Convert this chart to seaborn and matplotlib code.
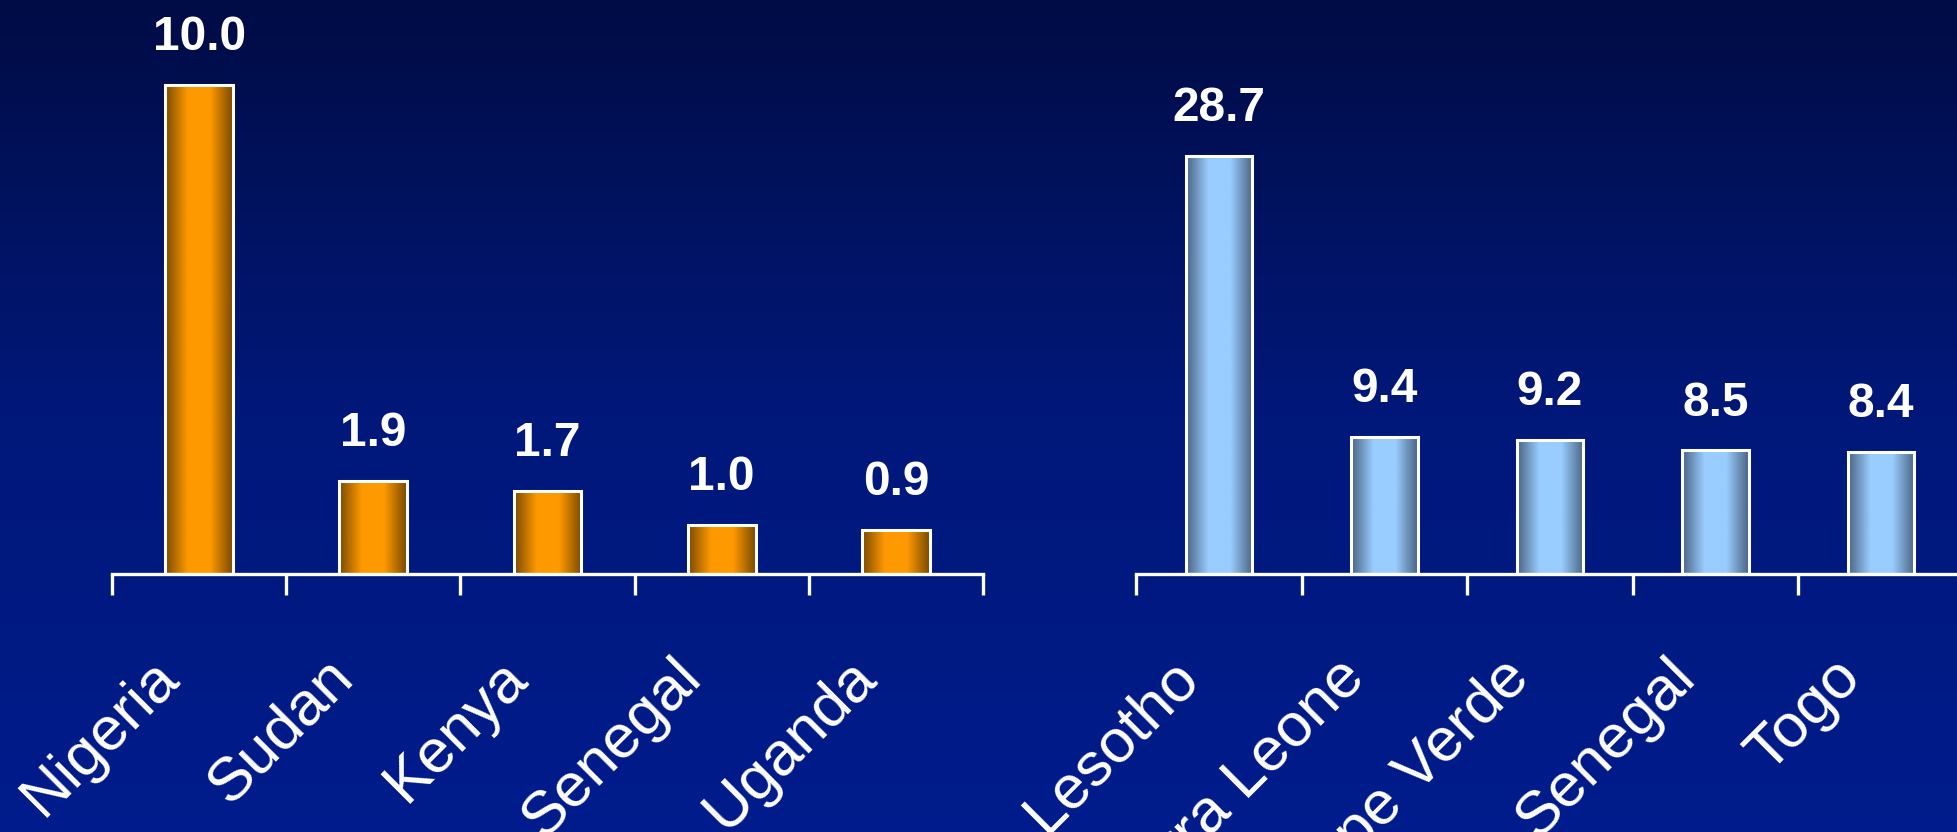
import numpy as np
import pandas as pd
import seaborn as sns
import matplotlib.pyplot as plt
from matplotlib.colors import LinearSegmentedColormap
from matplotlib.transforms import ScaledTranslation

# data
left_countries = ["Nigeria", "Sudan", "Kenya", "Senegal", "Uganda"]
left_values = [10.0, 1.9, 1.7, 1.0, 0.9]
right_countries = ["Lesotho", "Sierra Leone", "Cape Verde", "Senegal", "Togo"]
right_values = [28.7, 9.4, 9.2, 8.5, 8.4]

sns.set_style("white")
plt.rcParams['font.family'] = ['Liberation Sans', 'DejaVu Sans']

fig = plt.figure(figsize=(19.58, 8.32), dpi=100)

# background gradient
bg = fig.add_axes([0, 0, 1, 1], zorder=-10)
grad = np.linspace(0, 1, 256).reshape(-1, 1)
bg_cmap = LinearSegmentedColormap.from_list("bg", ["#000C45", "#00187A", "#001C8C"])
bg.imshow(grad, aspect='auto', cmap=bg_cmap, extent=[0, 1, 0, 1], origin='upper')
bg.set_axis_off()


def gradient_bars(ax, dark, bright, ytop):
    cmap = LinearSegmentedColormap.from_list("bar", [dark, bright, bright, dark])
    u = np.linspace(0, 1, 200).reshape(1, -1)
    for p in ax.patches:
        x, w, h = p.get_x(), p.get_width(), p.get_height()
        im = ax.imshow(u, cmap=cmap, aspect='auto', extent=[x, x + w, 0, h],
                       zorder=2, interpolation='bilinear')
        im.set_clip_path(p)
        p.set_facecolor('none')
        p.set_edgecolor('white')
        p.set_linewidth(2.2)
        p.set_zorder(3)
    ax.set_xlim(-0.5, 4.5)
    ax.set_ylim(0, ytop)


def style_axis(ax, names, values):
    ax.set_facecolor('none')
    for s in ['top', 'left', 'right']:
        ax.spines[s].set_visible(False)
    ax.spines['bottom'].set_color('white')
    ax.spines['bottom'].set_linewidth(2.4)
    ax.set_yticks([])
    ax.set_xlabel('')
    ax.set_ylabel('')
    ax.set_xticks(range(len(names)))
    ax.set_xticklabels(names, rotation=45, ha='right', va='baseline',
                       rotation_mode='anchor', fontsize=44.5, color='white')
    ax.set_xticks(np.arange(-0.5, len(names), 1), minor=True)
    ax.tick_params(axis='x', which='major', length=0, pad=76)
    ax.tick_params(axis='x', which='minor', length=15, width=2.4,
                   color='white', direction='out', bottom=True)
    off = ScaledTranslation(-18 / 100, 0, fig.dpi_scale_trans)
    for lab in ax.get_xticklabels():
        lab.set_transform(lab.get_transform() + off)
    for i, v in enumerate(values):
        ax.annotate(f"{v:.1f}", (i, v), xytext=(0, 25), textcoords='offset points',
                    ha='center', va='baseline', fontsize=34.5, fontweight='bold',
                    color='white')


W, H = 1958, 832
ax1 = fig.add_axes([112 / W, (H - 574) / H, 871 / W, 574 / H])
df1 = pd.DataFrame({"country": left_countries, "value": left_values})
sns.barplot(data=df1, x="country", y="value", ax=ax1, width=0.39, color="#FF9900")
gradient_bars(ax1, "#7A4A00", "#FF9900", 11.74)
style_axis(ax1, left_countries, left_values)

ax2 = fig.add_axes([1136 / W, (H - 574) / H, 828 / W, 574 / H])
df2 = pd.DataFrame({"country": right_countries, "value": right_values})
sns.barplot(data=df2, x="country", y="value", ax=ax2, width=0.40, color="#99CCFF")
gradient_bars(ax2, "#4A6482", "#99CCFF", 39.42)
style_axis(ax2, right_countries, right_values)

plt.savefig("out.png", dpi=100)
plt.close()
